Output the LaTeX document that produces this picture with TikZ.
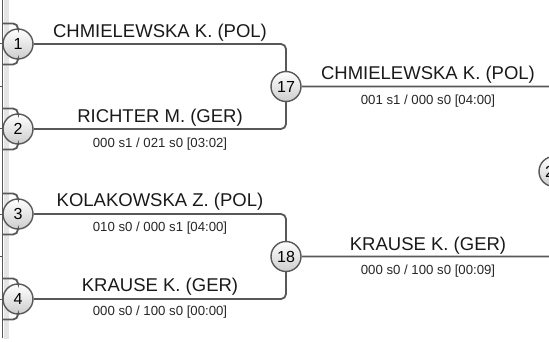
\documentclass[tikz,border=0pt]{standalone}
\usepackage{fontspec}
\setmainfont{Liberation Sans}
\begin{document}
\begin{tikzpicture}[x=1pt,y=-1pt,
  conn/.style={draw=lineg, line width=1.8pt, rounded corners=5pt},
  ball/.style={circle, draw=lineg, line width=1.4pt, minimum size=30pt, inner sep=0pt,
    top color=white, bottom color=ballg, font=\fontsize{16}{16}\selectfont, text=black},
  pname/.style={anchor=base, inner sep=0pt, font=\fontsize{18.5}{20}\selectfont, text=black!90},
  pscore/.style={anchor=base, inner sep=0pt, font=\fontsize{13.2}{14}\selectfont, text=black!85}]
\definecolor{lineg}{HTML}{585858}
\definecolor{ballg}{HTML}{CDCDCD}
\definecolor{bandg}{HTML}{E4E4E4}
\useasboundingbox (0,0) rectangle (549,342);
\clip (0,0) rectangle (549,342);
% left edge band and line
\fill[bandg] (3.5,0) rectangle (8.5,339);
\draw[lineg, line width=1.5pt] (2.5,0) -- (2.5,338);
\foreach \yy in {44,86.5,129,214,256.5,299} \draw[lineg, line width=1pt] (0,\yy) -- (2.5,\yy);
% circles
\node[ball] (c1) at (18,44) {1};
\node[ball] (c2) at (18,129) {2};
\node[ball] (c3) at (18,214) {3};
\node[ball] (c4) at (18,299) {4};
\node[ball] (c17) at (286,86.5) {17};
\node[ball] (c18) at (286,256.5) {18};
\node[ball] (c25) at (554,171.5) {25};
% arms from previous round
\foreach \n/\yy in {1/44,2/129,3/214,4/299}{
  \coordinate (t\n) at (2.5,\yy-20.5);
  \coordinate (b\n) at (2.5,\yy+20.5);
  \draw[conn] (t\n) -| (c\n.north);
  \draw[conn] (b\n) -| (c\n.south);
}
% connectors
\draw[conn] (c1.east) -| (c17.north);
\draw[conn] (c2.east) -| (c17.south);
\draw[conn] (c3.east) -| (c18.north);
\draw[conn] (c4.east) -| (c18.south);
\draw[conn] (c17.east) -| (c25.north);
\draw[conn] (c18.east) -| (c25.south);
% names
\node[pname] (n1) at (160,37.3) {CHMIELEWSKA K. (POL)};
\node[pname] (n2) at (160,122.3) {RICHTER M. (GER)};
\node[pname] (n3) at (160,207) {KOLAKOWSKA Z. (POL)};
\node[pname] (n4) at (160,291.5) {KRAUSE K. (GER)};
\node[pname] (n17) at (428,80) {CHMIELEWSKA K. (POL)};
\node[pname] (n18) at (428,250.5) {KRAUSE K. (GER)};
% scores
\node[pscore] (s2) at (160,147.5) {000 s1 / 021 s0 [03:02]};
\node[pscore] (s3) at (160,231.5) {010 s0 / 000 s1 [04:00]};
\node[pscore] (s4) at (160,315) {000 s0 / 100 s0 [00:00]};
\node[pscore] (s17) at (428,104.5) {001 s1 / 000 s0 [04:00]};
\node[pscore] (s18) at (428,274.5) {000 s0 / 100 s0 [00:09]};
\end{tikzpicture}
\end{document}
